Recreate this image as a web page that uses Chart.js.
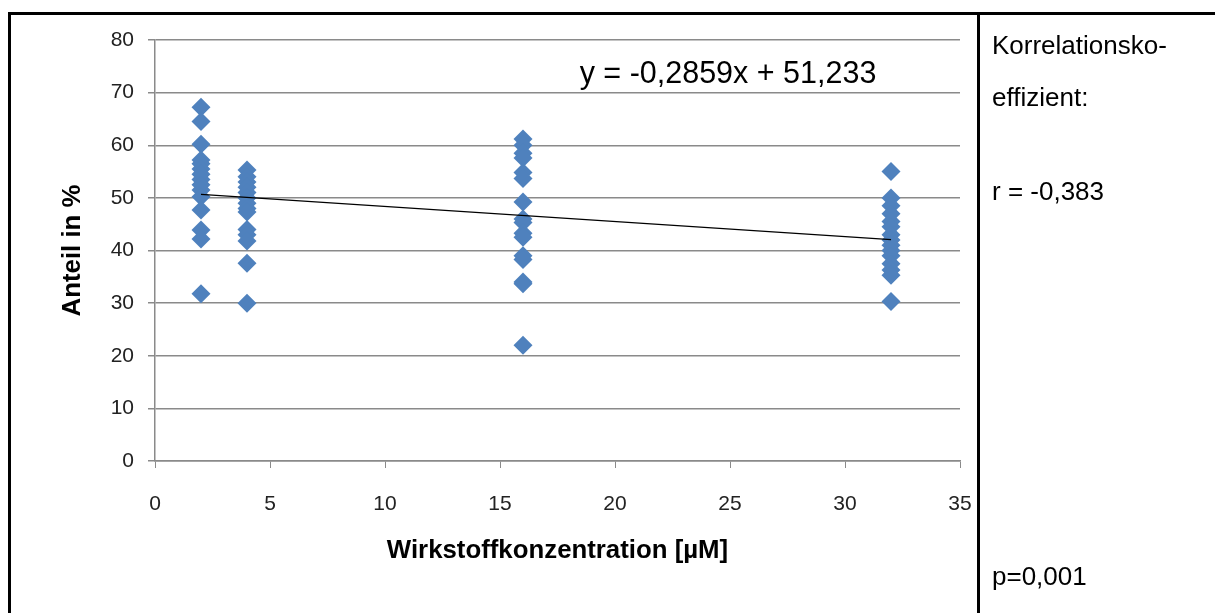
<!DOCTYPE html>
<html>
<head>
<meta charset="utf-8">
<script src="https://cdn.jsdelivr.net/npm/chart.js@4.4.1/dist/chart.umd.min.js"></script>
<style>
  html, body { margin: 0; padding: 0; background: #fff; }
  #wrap { position: relative; width: 1215px; height: 613px; overflow: hidden; }
  #chart { position: absolute; left: 0; top: 0; }
  .line { position: absolute; background: #000; }
  .note { position: absolute; left: 992px; font-family: "Liberation Sans", Arial, sans-serif; font-size: 26px; color: #000; white-space: nowrap; line-height: 1; }
</style>
</head>
<body>
<div id="wrap">
  <canvas id="chart" width="1215" height="613"></canvas>
  <div class="line" style="left:8px; top:12px; width:1207px; height:3px;"></div>
  <div class="line" style="left:8px; top:12px; width:3px; height:601px;"></div>
  <div class="line" style="left:977px; top:12px; width:3px; height:601px;"></div>
  <div class="note" style="top:32px;">Korrelationsko-</div>
  <div class="note" style="top:84px;">effizient:</div>
  <div class="note" style="top:178px;">r = -0,383</div>
  <div class="note" style="top:563px;">p=0,001</div>
</div>
<script>
// Konzentrationen und gemessene Anteile (in %)
var konzentrationen = [2, 4, 16, 32];
var anteil2  = [67.2, 64.5, 60.2, 57.2, 56.5, 55.5, 54.5, 53.5, 52.5, 51.5, 50.2, 47.7, 43.9, 42.2, 31.8];
var anteil4  = [55.3, 54.0, 53.0, 52.0, 51.0, 50.0, 49.0, 48.0, 47.3, 44.0, 43.0, 41.8, 37.6, 30.0];
var anteil16 = [61.2, 60.0, 58.5, 57.6, 54.8, 53.7, 49.2, 46.0, 45.3, 43.3, 42.5, 39.0, 38.3, 34.0, 33.7, 22.0];
var anteil32 = [55.0, 50.0, 48.5, 47.0, 45.5, 44.5, 43.0, 42.0, 41.0, 40.0, 39.0, 37.5, 36.3, 35.3, 30.3];

// Trendlinie laut Gleichung
var steigung = -0.2859;
var achsenabschnitt = 51.233;
var trendX = [2, 32];

var xTicks = [0, 5, 10, 15, 20, 25, 30, 35];
var yTicks = [0, 10, 20, 30, 40, 50, 60, 70, 80];

var alleWerte = [anteil2, anteil4, anteil16, anteil32];
var punkte = [];
konzentrationen.forEach(function(k, i) {
    alleWerte[i].forEach(function(v) {
        punkte.push({ x: k, y: v });
    });
});
var trendPunkte = trendX.map(function(x) {
    return { x: x, y: steigung * x + achsenabschnitt };
});

var gridFarbe = '#8a8a8a';
var schrift = '"Liberation Sans", Arial, sans-serif';

// Achsentitel und Gleichung
var textPlugin = {
    id: 'texte',
    afterDraw: function(chart) {
        var ctx = chart.ctx;
        var area = chart.chartArea;
        ctx.save();
        ctx.fillStyle = '#000';
        ctx.textAlign = 'center';
        ctx.textBaseline = 'middle';
        ctx.font = 'bold 25.8px ' + schrift;
        ctx.fillText('Wirkstoffkonzentration [µM]', (area.left + area.right) / 2, 551);
        ctx.translate(73, (area.top + area.bottom) / 2);
        ctx.rotate(-Math.PI / 2);
        ctx.fillText('Anteil in %', 0, 0);
        ctx.restore();

        ctx.save();
        ctx.fillStyle = '#000';
        ctx.textAlign = 'center';
        ctx.textBaseline = 'middle';
        ctx.font = '30.5px ' + schrift;
        ctx.fillText('y = -0,2859x + 51,233', 728, 75);
        ctx.restore();
    }
};

var ctx = document.getElementById('chart').getContext('2d');
var myChart = new Chart(ctx, {
    type: 'scatter',
    data: {
        datasets: [{
            label: 'Anteil',
            data: punkte,
            pointStyle: 'rectRot',
            pointRadius: 9.5,
            pointHoverRadius: 9.5,
            pointBackgroundColor: '#4F81BD',
            pointBorderColor: '#4F81BD',
            pointBorderWidth: 0,
            order: 2
        }, {
            label: 'Trend',
            type: 'line',
            data: trendPunkte,
            borderColor: '#000',
            borderWidth: 1.3,
            pointRadius: 0,
            fill: false,
            order: 1
        }]
    },
    options: {
        responsive: false,
        animation: false,
        layout: {
            padding: { left: 0, top: 40, right: 255, bottom: 0 }
        },
        plugins: {
            legend: { display: false },
            tooltip: { enabled: false }
        },
        scales: {
            x: {
                type: 'linear',
                min: 0,
                max: 35,
                afterBuildTicks: function(scale) {
                    scale.ticks = xTicks.map(function(v) { return { value: v }; });
                },
                afterFit: function(scale) { scale.height = 152; },
                ticks: {
                    font: { family: schrift, size: 21 },
                    color: '#222',
                    padding: 24
                },
                grid: {
                    drawOnChartArea: false,
                    drawTicks: true,
                    tickLength: 7,
                    color: gridFarbe
                },
                border: { display: true, color: gridFarbe, width: 1.5 }
            },
            y: {
                min: 0,
                max: 80,
                afterBuildTicks: function(scale) {
                    scale.ticks = yTicks.map(function(v) { return { value: v }; });
                },
                afterFit: function(scale) { scale.width = 155; },
                ticks: {
                    font: { family: schrift, size: 21 },
                    color: '#222',
                    padding: 14
                },
                grid: {
                    drawTicks: true,
                    tickLength: 7,
                    color: gridFarbe,
                    lineWidth: 1.5
                },
                border: { display: true, color: gridFarbe, width: 1.5 }
            }
        }
    },
    plugins: [textPlugin]
});
</script>
</body>
</html>
